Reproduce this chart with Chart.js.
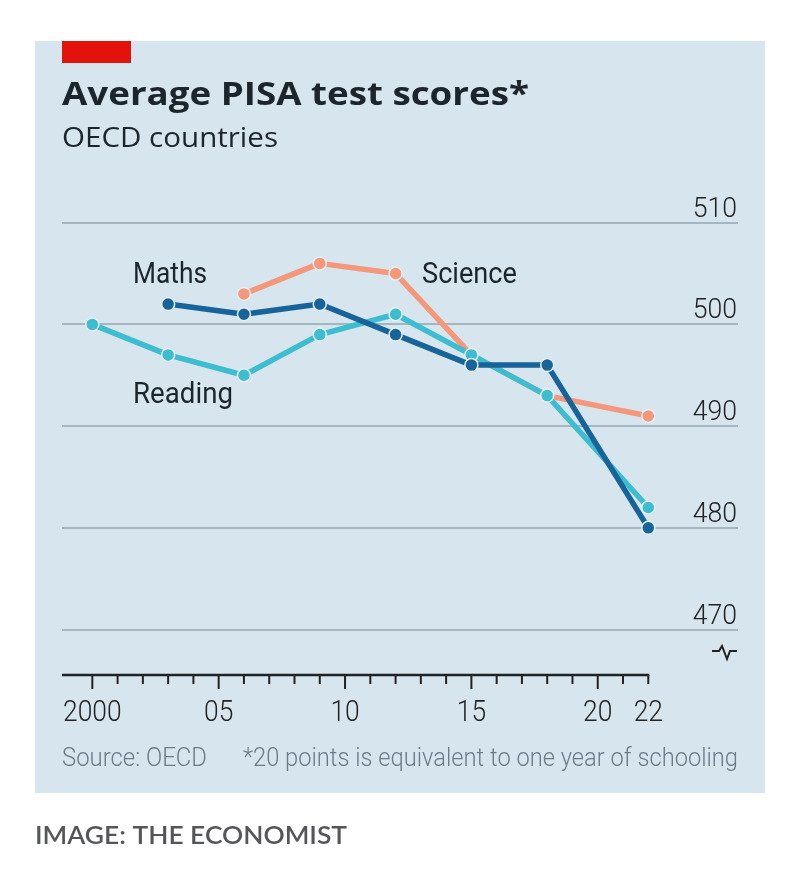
<!DOCTYPE html>
<html>
<head>
<meta charset="utf-8">
<script src="https://cdn.jsdelivr.net/npm/chart.js@4/dist/chart.umd.min.js"></script>
<style>
  html, body { margin: 0; padding: 0; background: #fff; }
  #wrap { position: relative; width: 800px; height: 881px; }
</style>
</head>
<body>
<div id="wrap"><canvas id="pisa" width="800" height="881"></canvas></div>
<script>
// Data
const years = [2000, 2003, 2006, 2009, 2012, 2015, 2018, 2022];
const maths = [null, 502, 501, 502, 499, 496, 496, 480];
const reading = [500, 497, 495, 499, 501, 497, 493, 482];
const science = [null, null, 503, 506, 505, 497, 493, 491];

const seriesNames = ['Maths', 'Reading', 'Science'];
const yTicks = [470, 480, 490, 500, 510];
const xTickYears = [2000, 2005, 2010, 2015, 2020, 2022];
const xTickLabels = ['2000', '05', '10', '15', '20', '22'];

const colMaths = '#17649a';
const colReading = '#3dbdd0';
const colScience = '#f4977b';
const ink = '#1d252c';

const toPoints = (vals) => years
    .map((yr, i) => ({ x: yr, y: vals[i] }))
    .filter(p => p.y !== null);

// draw text, squeezing/stretching horizontally to a target width if given
function txt(ctx, s, x, y, font, color, opts = {}) {
    ctx.save();
    ctx.font = font;
    ctx.fillStyle = color;
    ctx.textBaseline = 'alphabetic';
    const w = ctx.measureText(s).width;
    let sx = opts.sx || 1;
    if (opts.width) sx = opts.width / w;
    let left = x;
    if (opts.align === 'right') left = x - w * sx;
    if (opts.align === 'center') left = x - w * sx / 2;
    ctx.translate(left, y);
    ctx.scale(sx, 1);
    ctx.fillText(s, 0, 0);
    ctx.restore();
}

const decor = {
    id: 'decor',
    beforeDraw(chart) {
        const { ctx } = chart;
        ctx.save();
        ctx.fillStyle = '#d6e5ee';
        ctx.fillRect(35, 41, 730, 752);
        ctx.fillStyle = '#e3120b';
        ctx.fillRect(62, 41, 69, 22);
        ctx.restore();
    },
    afterDraw(chart) {
        const { ctx, scales: { x, y } } = chart;

        // titles
        txt(ctx, 'Average PISA test scores*', 62, 105, 'bold 33px "Open Sans"', ink, { width: 467 });
        txt(ctx, 'OECD countries', 62, 147, '28px "Open Sans"', ink, { width: 216 });

        // y tick labels above the gridlines, right side
        yTicks.forEach(v => {
            txt(ctx, String(v), 737, y.getPixelForValue(v) - 6, '300 28px Roboto', '#222', { align: 'right', sx: 0.95 });
        });

        // axis break mark
        const bx = 712, by = 651;
        ctx.save();
        ctx.strokeStyle = '#222';
        ctx.lineWidth = 2;
        ctx.beginPath();
        ctx.moveTo(bx, by);
        ctx.lineTo(bx + 7, by);
        ctx.lineTo(bx + 10, by - 5);
        ctx.lineTo(bx + 15, by + 8);
        ctx.lineTo(bx + 18, by);
        ctx.lineTo(bx + 25, by);
        ctx.stroke();
        ctx.restore();

        // x axis: baseline and yearly ticks
        const ay = y.getPixelForValue(y.min);
        const xEnd = x.getPixelForValue(years[years.length - 1]);
        ctx.save();
        ctx.strokeStyle = '#222';
        ctx.lineWidth = 2.5;
        ctx.beginPath();
        ctx.moveTo(chart.chartArea.left, ay);
        ctx.lineTo(xEnd + 1, ay);
        ctx.stroke();
        ctx.lineWidth = 2;
        for (let yr = years[0]; yr <= years[years.length - 1]; yr++) {
            const px = x.getPixelForValue(yr);
            const major = xTickYears.includes(yr) && yr !== 2022;
            ctx.beginPath();
            ctx.moveTo(px, ay);
            ctx.lineTo(px, ay + (major ? 14 : 9));
            ctx.stroke();
        }
        ctx.restore();
        xTickYears.forEach((yr, i) => {
            txt(ctx, xTickLabels[i], x.getPixelForValue(yr), 721, '300 30px Roboto', '#222', { align: 'center', sx: 0.88 });
        });

        // series labels
        txt(ctx, seriesNames[0], 133, 283, '30px Roboto', ink, { width: 74 });
        txt(ctx, seriesNames[1], 133, 403, '30px Roboto', ink, { width: 100 });
        txt(ctx, seriesNames[2], 422, 283, '30px Roboto', ink, { width: 95 });

        // source and footnote
        txt(ctx, 'Source: OECD', 62, 766, '300 25px Roboto', '#6c7c87', { width: 145 });
        txt(ctx, '*20 points is equivalent to one year of schooling', 243, 766, '300 25px Roboto', '#6c7c87', { width: 495 });

        // credit below the panel
        txt(ctx, 'IMAGE: THE ECONOMIST', 35, 844, '600 24px Lato', '#555659', { width: 312 });
    }
};

const line = (label, vals, color) => ({
    label,
    data: toPoints(vals),
    borderColor: color,
    backgroundColor: color,
    borderWidth: 5.5,
    borderJoinStyle: 'round',
    pointRadius: 6.5,
    pointBackgroundColor: color,
    pointBorderColor: '#e7f0f5',
    pointBorderWidth: 1.5,
    tension: 0
});

new Chart(document.getElementById('pisa'), {
    type: 'line',
    data: {
        datasets: [
            line(seriesNames[0], maths, colMaths),
            line(seriesNames[1], reading, colReading),
            line(seriesNames[2], science, colScience)
        ]
    },
    options: {
        responsive: false,
        animation: false,
        events: [],
        layout: { padding: { left: 62, right: 62, top: 222.7, bottom: 206 } },
        plugins: { legend: { display: false }, tooltip: { enabled: false } },
        scales: {
            x: { type: 'linear', display: false, min: 1998.8, max: 2025.55 },
            y: {
                type: 'linear',
                position: 'right',
                min: 465.53,
                max: 510,
                afterBuildTicks: (s) => { s.ticks = yTicks.map(v => ({ value: v })); },
                ticks: { display: false },
                border: { display: false },
                grid: { color: '#a6b6c0', lineWidth: 2, drawTicks: false }
            }
        }
    },
    plugins: [decor]
});
</script>
</body>
</html>
